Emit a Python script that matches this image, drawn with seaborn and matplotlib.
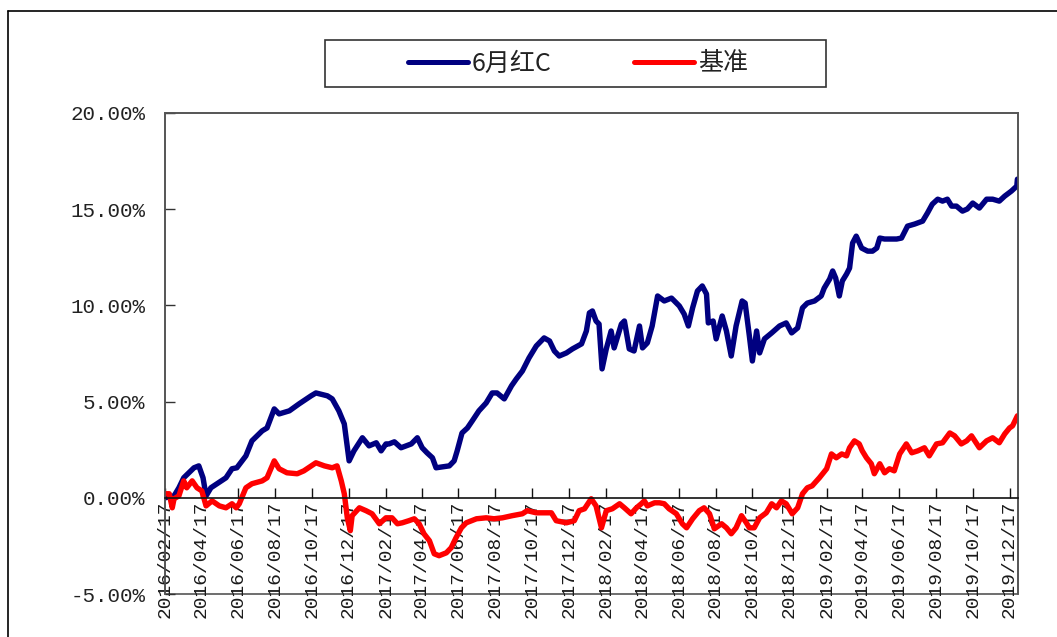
import numpy as np
import pandas as pd
import matplotlib
matplotlib.use("Agg")
import matplotlib.pyplot as plt
from matplotlib.ticker import FuncFormatter, FixedLocator, FixedFormatter
from matplotlib.lines import Line2D
from matplotlib.patches import Rectangle
import matplotlib.dates as mdates
import seaborn as sns

# ---------------- data ----------------
start_date = "2016-02-17"
series_names = ["6月红C", "基准"]

blue_days = [0, 15, 23, 31, 48, 56, 63, 68, 76, 101, 111, 119, 134, 144, 161, 169, 181, 189, 206, 222,
             242, 250, 269, 277, 288, 297, 305, 313, 327, 338, 350, 358, 366, 371, 380, 391, 408, 418, 426, 434,
             443, 449, 471, 479, 484, 492, 501, 509, 520, 532, 542, 550, 562, 574, 582, 592, 603, 615, 628, 637,
             645, 653, 665, 675, 690, 698, 703, 708, 714, 719, 724, 731, 739, 744, 756, 761, 769, 777, 786, 791,
             799, 807, 816, 827, 839, 852, 860, 867, 874, 882, 890, 897, 900, 908, 913, 923, 930, 938, 946, 956,
             961, 968, 973, 980, 985, 993, 1005, 1018, 1029, 1038, 1048, 1056, 1064, 1076, 1087, 1092, 1101, 1106, 1111, 1117,
             1122, 1129, 1134, 1139, 1145, 1154, 1164, 1172, 1179, 1184, 1192, 1212, 1220, 1230, 1242, 1255, 1263, 1271, 1280, 1288,
             1296, 1303, 1311, 1321, 1329, 1338, 1349, 1361, 1371, 1382, 1391, 1402, 1411, 1412]
blue_vals = [0.00, 0.10, 0.52, 1.04, 1.56, 1.66, 1.04, 0.10, 0.52, 1.04, 1.51, 1.56, 2.18, 2.96, 3.48, 3.63, 4.62, 4.36, 4.52, 4.88,
             5.30, 5.45, 5.30, 5.14, 4.52, 3.84, 1.92, 2.44, 3.12, 2.70, 2.86, 2.44, 2.80, 2.80, 2.91, 2.60, 2.80, 3.12, 2.60, 2.34,
             2.08, 1.56, 1.66, 1.92, 2.44, 3.37, 3.63, 4.00, 4.52, 4.93, 5.45, 5.45, 5.14, 5.82, 6.18, 6.59, 7.27, 7.89, 8.31, 8.15,
             7.63, 7.37, 7.53, 7.74, 8.00, 8.67, 9.61, 9.71, 9.19, 9.03, 6.70, 7.74, 8.67, 7.79, 9.03, 9.19, 7.74, 7.63, 8.93, 7.79,
             8.05, 8.93, 10.49, 10.23, 10.38, 9.97, 9.55, 8.93, 9.87, 10.75, 11.01, 10.59, 9.09, 9.19, 8.26, 9.45, 8.67, 7.37, 8.93, 10.23,
             10.12, 8.41, 7.11, 8.67, 7.53, 8.26, 8.57, 8.93, 9.09, 8.57, 8.83, 9.87, 10.12, 10.23, 10.49, 10.90, 11.37, 11.79, 11.42, 10.49,
             11.27, 11.63, 11.94, 13.24, 13.60, 12.98, 12.82, 12.82, 12.98, 13.50, 13.45, 13.45, 13.50, 14.12, 14.23, 14.38, 14.80, 15.26, 15.52, 15.42,
             15.52, 15.16, 15.16, 14.90, 15.01, 15.32, 15.06, 15.52, 15.52, 15.42, 15.68, 15.94, 16.20, 16.56]

red_days = [0, 7, 12, 15, 23, 31, 36, 45, 53, 61, 68, 78, 90, 101, 111, 118, 123, 134, 144, 161,
            169, 181, 189, 202, 219, 230, 250, 264, 277, 285, 292, 297, 302, 307, 310, 322, 333, 343, 355, 366,
            376, 385, 393, 404, 413, 421, 429, 438, 446, 454, 466, 474, 482, 491, 499, 516, 532, 545, 559, 575,
            592, 600, 615, 628, 640, 648, 665, 678, 686, 695, 706, 714, 723, 731, 741, 753, 761, 772, 781, 789,
            794, 799, 811, 819, 827, 835, 847, 857, 864, 874, 885, 893, 902, 910, 922, 930, 938, 946, 955, 963,
            968, 976, 985, 996, 1005, 1013, 1021, 1029, 1039, 1048, 1056, 1064, 1072, 1084, 1096, 1104, 1112, 1121, 1129, 1134,
            1142, 1150, 1155, 1162, 1170, 1175, 1184, 1192, 1200, 1208, 1217, 1228, 1237, 1247, 1258, 1266, 1278, 1288, 1300, 1308,
            1319, 1328, 1336, 1349, 1361, 1371, 1382, 1391, 1399, 1404, 1412]
red_vals = [0.21, 0.21, -0.52, -0.05, 0.10, 0.88, 0.52, 0.88, 0.52, 0.36, -0.42, -0.16, -0.42, -0.52, -0.31, -0.52, -0.31, 0.52, 0.73, 0.88,
            1.04, 1.92, 1.51, 1.30, 1.25, 1.40, 1.82, 1.66, 1.56, 1.66, 0.88, 0.21, -1.04, -1.71, -0.93, -0.52, -0.67, -0.83, -1.35, -1.04,
            -1.04, -1.35, -1.30, -1.19, -1.09, -1.35, -1.87, -2.23, -2.91, -3.01, -2.86, -2.60, -2.08, -1.56, -1.30, -1.09, -1.04, -1.09, -1.04, -0.93,
            -0.83, -0.67, -0.78, -0.78, -0.78, -1.19, -1.30, -1.19, -0.67, -0.57, -0.05, -0.42, -1.56, -0.67, -0.57, -0.31, -0.52, -0.83, -0.52, -0.31,
            -0.16, -0.42, -0.26, -0.26, -0.31, -0.57, -0.83, -1.35, -1.56, -1.09, -0.67, -0.52, -0.83, -1.61, -1.35, -1.56, -1.87, -1.56, -0.93, -1.30,
            -1.56, -1.56, -1.04, -0.78, -0.31, -0.52, -0.16, -0.31, -0.83, -0.52, 0.21, 0.52, 0.62, 1.04, 1.51, 2.28, 2.08, 2.28, 2.18, 2.60,
            2.96, 2.80, 2.44, 2.08, 1.77, 1.25, 1.77, 1.30, 1.51, 1.40, 2.28, 2.80, 2.34, 2.44, 2.60, 2.18, 2.80, 2.86, 3.37, 3.22,
            2.80, 2.96, 3.22, 2.60, 2.96, 3.12, 2.86, 3.32, 3.63, 3.74, 4.26]

tick_labels = ["2016/02/17", "2016/04/17", "2016/06/17", "2016/08/17", "2016/10/17", "2016/12/17",
               "2017/02/17", "2017/04/17", "2017/06/17", "2017/08/17", "2017/10/17", "2017/12/17",
               "2018/02/17", "2018/04/17", "2018/06/17", "2018/08/17", "2018/10/17", "2018/12/17",
               "2019/02/17", "2019/04/17", "2019/06/17", "2019/08/17", "2019/10/17", "2019/12/17"]
y_ticks = [-5, 0, 5, 10, 15, 20]
x_end = "2019-12-31"

# ---------------- build frame ----------------
t0 = pd.Timestamp(start_date)
df = pd.concat([
    pd.DataFrame({"date": t0 + pd.to_timedelta(blue_days, unit="D"), "value": blue_vals, "series": series_names[0]}),
    pd.DataFrame({"date": t0 + pd.to_timedelta(red_days, unit="D"), "value": red_vals, "series": series_names[1]}),
], ignore_index=True)

sns.set_theme(style="white")
plt.rcParams["font.family"] = ["Noto Sans CJK SC", "DejaVu Sans"]
plt.rcParams["xtick.direction"] = "in"
plt.rcParams["ytick.direction"] = "in"
plt.rcParams["xtick.bottom"] = True
plt.rcParams["ytick.left"] = True

W, H = 1057, 637
fig = plt.figure(figsize=(W / 100, H / 100), dpi=100)
ax = fig.add_axes([165 / W, 1 - 594 / H, (1018 - 165) / W, (594 - 113) / H])

colors = {"6月红C": "#000080", "基准": "#FF0000"}
sns.lineplot(data=df, x="date", y="value", hue="series", hue_order=series_names,
             palette=colors, linewidth=3.9, ax=ax, legend=False, estimator=None, sort=False)

ax.set_xlim(t0, pd.Timestamp(x_end))
ax.set_ylim(-5, 20)
ax.set_xlabel("")
ax.set_ylabel("")

# y axis
ax.yaxis.set_major_locator(FixedLocator(y_ticks))
ax.yaxis.set_major_formatter(FuncFormatter(lambda v, p: f"{v:.2f}%"))
ax.tick_params(axis="y", which="major", direction="in", length=7, width=1, color="#333333", pad=14,
               labelsize=15, labelcolor="#222222", left=True, labelfontfamily="Liberation Mono")

# x axis at zero
tick_pos = [mdates.date2num(pd.Timestamp(s.replace("/", "-"))) for s in tick_labels]
ax.xaxis.set_major_locator(FixedLocator(tick_pos))
ax.xaxis.set_major_formatter(FixedFormatter(tick_labels))
ax.xaxis.set_minor_locator(FixedLocator([]))
ax.tick_params(axis="x", which="major", direction="in", length=7, width=1, color="#111111", pad=2,
               bottom=True, labelrotation=90, labelsize=14, labelcolor="#1a1a1a",
               labelfontfamily="Liberation Mono")
ax.spines["bottom"].set_position(("data", 0))
ax.spines["bottom"].set_color("#111111")
ax.spines["bottom"].set_linewidth(1.2)
for s in ["left", "top", "right"]:
    ax.spines[s].set_color("#555555")
    ax.spines[s].set_linewidth(1.2)
# bottom frame of plot area
ax.add_patch(Rectangle((0, 0), 1, 1, transform=ax.transAxes, fill=False,
                       edgecolor="#555555", linewidth=1.2, clip_on=False, zorder=0))
ax.grid(False)

# legend (frame drawn separately)
handles = [Line2D([0], [0], color=colors[n], lw=3.6) for n in series_names]
leg = fig.legend(handles, series_names, loc="center", bbox_to_anchor=(578 / W, 1 - 63.5 / H),
                 ncol=2, frameon=False, fontsize=18,
                 handlelength=2.4, handletextpad=0.15, columnspacing=3.3)
for t in leg.get_texts():
    t.set_color("#222222")
fig.add_artist(Rectangle((325 / W, 1 - 87 / H), (826 - 325) / W, 47 / H, transform=fig.transFigure,
                         fill=False, edgecolor="#333333", linewidth=1.2))

# outer border (left and top visible)
fig.add_artist(Line2D([8 / W, 8 / W], [0, 1 - 10.5 / H], color="black", lw=1.2, transform=fig.transFigure))
fig.add_artist(Line2D([8 / W, 1], [1 - 10.5 / H, 1 - 10.5 / H], color="black", lw=1.2, transform=fig.transFigure))

fig.savefig("out.png", dpi=100, facecolor="white")
